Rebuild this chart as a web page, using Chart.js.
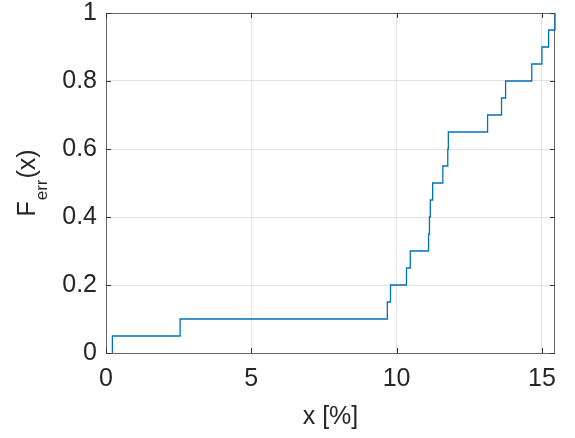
<!DOCTYPE html>
<html>
<head>
<meta charset="utf-8">
<script src="https://cdn.jsdelivr.net/npm/chart.js@4"></script>
<style>
  html, body { margin: 0; padding: 0; background: #fff; }
  #wrap { width: 575px; height: 438px; }
</style>
</head>
<body>
<div id="wrap"><canvas id="cdfChart"></canvas></div>
<script>
const errValues = [0.22, 0.22, 2.55, 9.68, 9.79, 10.34, 10.47, 11.10, 11.13, 11.16, 11.24,
                   11.59, 11.76, 11.78, 13.13, 13.61, 13.75, 14.65, 15.00, 15.23, 15.45];
const cdfValues = [0, 0.05, 0.10, 0.15, 0.20, 0.25, 0.30, 0.35, 0.40, 0.45, 0.50,
                   0.55, 0.60, 0.65, 0.70, 0.75, 0.80, 0.85, 0.90, 0.95, 1.00];
const xTicks = [0, 5, 10, 15];
const yTicks = [0, 0.2, 0.4, 0.6, 0.8, 1];

const FONT = "'Liberation Sans', Arial, sans-serif";
const AXIS_COLOR = '#666666';
const TEXT_COLOR = '#262626';

// box round the plot + MATLAB style inward ticks (under the line)
const boxPlugin = {
    id: 'box',
    beforeDatasetsDraw(chart) {
        const { ctx, chartArea: a, scales } = chart;
        ctx.save();
        ctx.strokeStyle = AXIS_COLOR;
        ctx.lineWidth = 1;
        ctx.strokeRect(a.left + 0.5, a.top + 0.5, a.right - a.left - 1, a.bottom - a.top);
        ctx.strokeStyle = '#333';
        ctx.beginPath();
        xTicks.forEach(v => {
            const px = Math.round(scales.x.getPixelForValue(v)) + 0.5;
            ctx.moveTo(px, a.bottom); ctx.lineTo(px, a.bottom - 5);
            ctx.moveTo(px, a.top); ctx.lineTo(px, a.top + 5);
        });
        yTicks.forEach(v => {
            const py = Math.round(scales.y.getPixelForValue(v)) + 0.5;
            ctx.moveTo(a.left, py); ctx.lineTo(a.left + 5, py);
            ctx.moveTo(a.right, py); ctx.lineTo(a.right - 5, py);
        });
        ctx.stroke();
        ctx.restore();
    }
};

// y title with subscript: F_err(x)
const yTitlePlugin = {
    id: 'yTitle',
    afterDraw(chart) {
        const { ctx, chartArea: a } = chart;
        const big = '25px ' + FONT, small = '17px ' + FONT;
        ctx.save();
        ctx.font = big;
        const w1 = ctx.measureText('F').width;
        const w3 = ctx.measureText('(x)').width;
        ctx.font = small;
        const w2 = ctx.measureText('err').width;
        const total = w1 + w2 + w3 + 2;
        const cy = (a.top + a.bottom) / 2;
        ctx.translate(35, cy + total / 2);
        ctx.rotate(-Math.PI / 2);
        ctx.fillStyle = TEXT_COLOR;
        ctx.textBaseline = 'alphabetic';
        ctx.font = big;
        ctx.fillText('F', 0, 0);
        ctx.font = small;
        ctx.fillText('err', w1 + 1, 12);
        ctx.font = big;
        ctx.fillText('(x)', w1 + w2 + 2, 0);
        ctx.restore();
    }
};

new Chart(document.getElementById('cdfChart'), {
    type: 'line',
    data: {
        datasets: [{
            data: errValues.map((x, i) => ({ x: x, y: cdfValues[i] })),
            borderColor: '#0072BD',
            borderWidth: 1.3,
            pointRadius: 0,
            stepped: true,
            fill: false,
            clip: 2
        }]
    },
    options: {
        responsive: true,
        maintainAspectRatio: false,
        animation: false,
        layout: { padding: { top: 13, right: 20, left: 0, bottom: 0 } },
        scales: {
            x: {
                type: 'linear',
                min: 0,
                max: 15.45,
                afterBuildTicks: s => { s.ticks = xTicks.map(v => ({ value: v })); },
                afterFit: s => { s.height = 85; s.paddingLeft = 0; s.paddingRight = 0; },
                ticks: {
                    color: TEXT_COLOR,
                    font: { family: FONT, size: 25 },
                    padding: 11,
                    maxRotation: 0
                },
                grid: { color: '#e3e3e3', drawTicks: false },
                border: { display: false },
                title: {
                    display: true,
                    text: 'x [%]',
                    color: TEXT_COLOR,
                    font: { family: FONT, size: 25 },
                    padding: { top: 0, bottom: 6 }
                }
            },
            y: {
                min: 0,
                max: 1,
                afterBuildTicks: s => { s.ticks = yTicks.map(v => ({ value: v })); },
                afterFit: s => { s.width = 106; s.paddingTop = 0; s.paddingBottom = 0; },
                ticks: {
                    color: TEXT_COLOR,
                    font: { family: FONT, size: 25 },
                    padding: 9,
                    callback: v => String(v)
                },
                grid: { color: '#e3e3e3', drawTicks: false },
                border: { display: false }
            }
        },
        plugins: {
            legend: { display: false },
            tooltip: { enabled: false }
        }
    },
    plugins: [boxPlugin, yTitlePlugin]
});
</script>
</body>
</html>
